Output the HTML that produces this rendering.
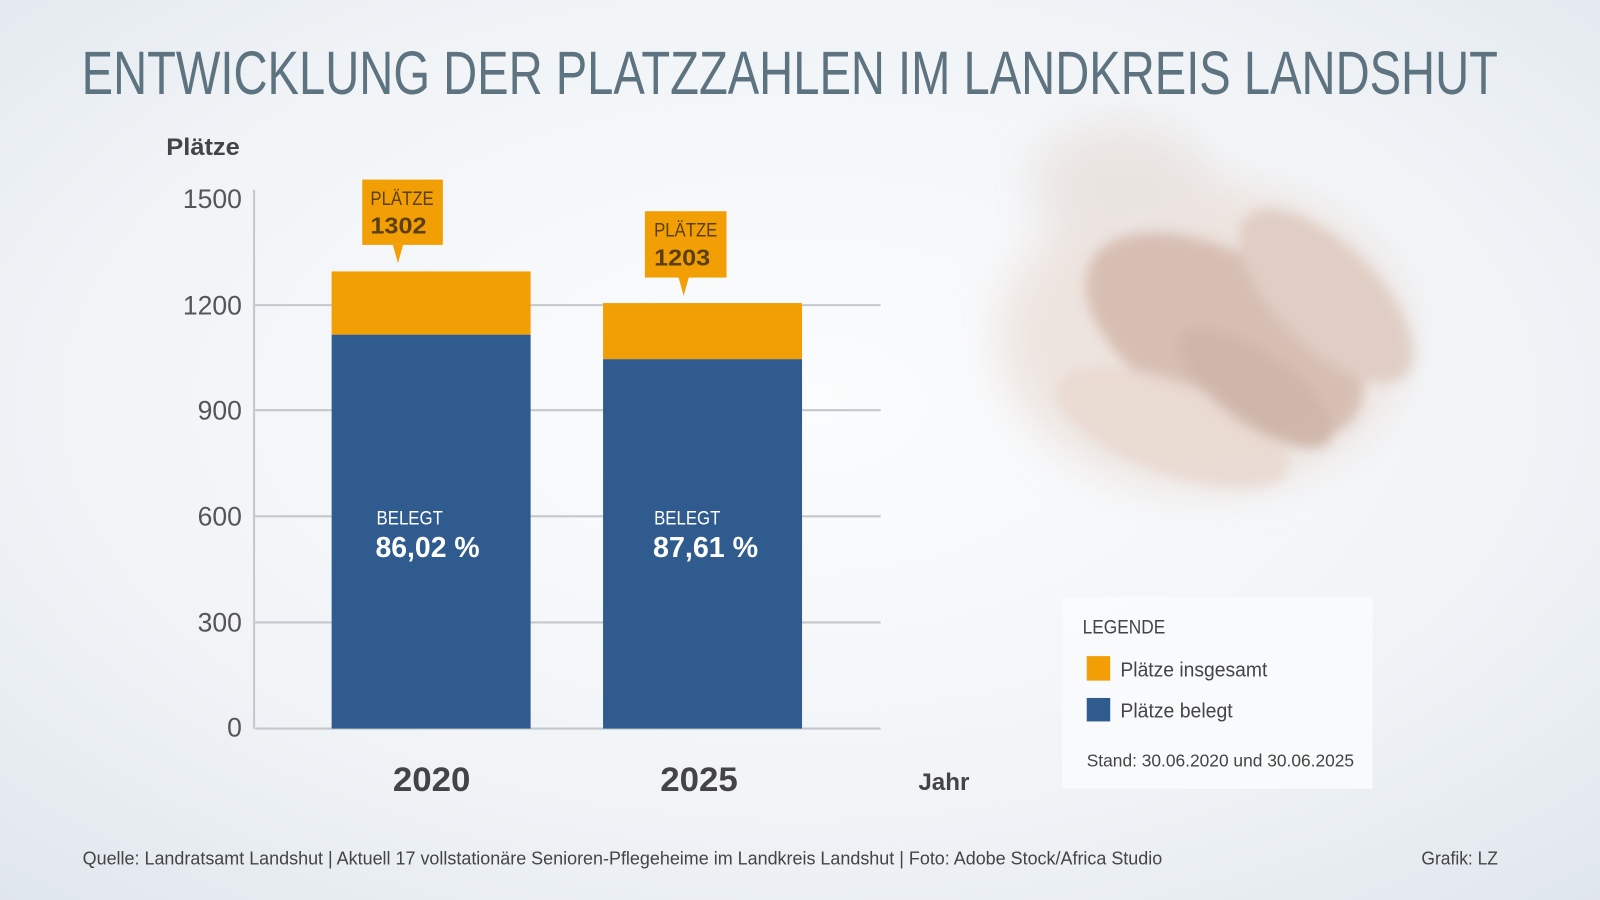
<!DOCTYPE html>
<html><head><meta charset="utf-8"><style>html,body{margin:0;padding:0;width:1600px;height:900px;overflow:hidden}svg{display:block}</style></head>
<body>
<svg width="1600" height="900" viewBox="0 0 1568 882" preserveAspectRatio="none" xmlns="http://www.w3.org/2000/svg" font-family="Liberation Sans, sans-serif">
<defs>
<radialGradient id="bg" cx="0.5" cy="0.45" r="0.75"><stop offset="0" stop-color="#fbfcfd"/><stop offset="0.6" stop-color="#f1f4f7"/><stop offset="1" stop-color="#dfe6ec"/></radialGradient>
<filter id="bl" x="-50%" y="-50%" width="200%" height="200%"><feGaussianBlur stdDeviation="22"/></filter>
<filter id="bl2"><feGaussianBlur stdDeviation="6"/></filter>
</defs>
<rect width="1568" height="882" fill="url(#bg)"/>
<g filter="url(#bl)" opacity="0.8">
<ellipse cx="1180" cy="330" rx="200" ry="150" fill="#ebdfd8"/>
<ellipse cx="1100" cy="180" rx="90" ry="60" fill="#e8e0db"/>
</g>
<g filter="url(#bl2)" opacity="0.75">
<ellipse cx="1200" cy="330" rx="150" ry="80" fill="#d0b2a5" transform="rotate(30 1200 330)"/>
<ellipse cx="1300" cy="290" rx="110" ry="50" fill="#dcc6bb" transform="rotate(45 1300 290)"/>
<ellipse cx="1150" cy="420" rx="120" ry="45" fill="#e8d7ce" transform="rotate(20 1150 420)"/>
<ellipse cx="1230" cy="380" rx="90" ry="35" fill="#c6a899" transform="rotate(35 1230 380)"/>
</g>
<text x="80" y="92" font-size="60" fill="#5e7380" textLength="1388" lengthAdjust="spacingAndGlyphs">ENTWICKLUNG DER PLATZZAHLEN IM LANDKREIS LANDSHUT</text>
<text x="163" y="152" font-size="24" font-weight="bold" fill="#444" textLength="72" lengthAdjust="spacingAndGlyphs">Plätze</text>
<g stroke="#c4c8cc" stroke-width="2">
<line x1="250" y1="299" x2="863" y2="299"/><line x1="250" y1="402" x2="863" y2="402"/><line x1="250" y1="506" x2="863" y2="506"/><line x1="250" y1="610" x2="863" y2="610"/><line x1="250" y1="714" x2="863" y2="714"/><line x1="249" y1="186" x2="249" y2="714"/>
</g>
<g font-size="26" fill="#555" text-anchor="end">
<text x="237" y="204">1500</text><text x="237" y="308">1200</text><text x="237" y="411">900</text><text x="237" y="515">600</text><text x="237" y="619">300</text><text x="237" y="722">0</text>
</g>
<rect x="325" y="266" width="195" height="62" fill="#f29f05"/>
<rect x="325" y="328" width="195" height="386" fill="#2f5b8f"/>
<rect x="591" y="297" width="195" height="55" fill="#f29f05"/>
<rect x="591" y="352" width="195" height="362" fill="#2f5b8f"/>
<rect x="355" y="176" width="79" height="64" fill="#f29f05"/><polygon points="385,240 395,240 390,258" fill="#f29f05"/>
<rect x="632" y="207" width="80" height="65" fill="#f29f05"/><polygon points="665,272 675,272 670,290" fill="#f29f05"/>
<g fill="#5b3f10"><text x="363" y="201" font-size="19" textLength="62" lengthAdjust="spacingAndGlyphs">PLÄTZE</text><text x="363" y="229" font-size="23" font-weight="bold" textLength="55" lengthAdjust="spacingAndGlyphs">1302</text>
<text x="641" y="232" font-size="19" textLength="62" lengthAdjust="spacingAndGlyphs">PLÄTZE</text><text x="641" y="260" font-size="23" font-weight="bold" textLength="55" lengthAdjust="spacingAndGlyphs">1203</text></g>
<g fill="#fff"><text x="369" y="514" font-size="19" textLength="65" lengthAdjust="spacingAndGlyphs">BELEGT</text><text x="368" y="546" font-size="28" font-weight="bold" textLength="102" lengthAdjust="spacingAndGlyphs">86,02 %</text>
<text x="641" y="514" font-size="19" textLength="65" lengthAdjust="spacingAndGlyphs">BELEGT</text><text x="640" y="546" font-size="28" font-weight="bold" textLength="103" lengthAdjust="spacingAndGlyphs">87,61 %</text></g>
<g fill="#444" font-weight="bold"><text x="385" y="775" font-size="34" textLength="76" lengthAdjust="spacingAndGlyphs">2020</text><text x="647" y="775" font-size="34" textLength="76" lengthAdjust="spacingAndGlyphs">2025</text><text x="900" y="774" font-size="24" textLength="50" lengthAdjust="spacingAndGlyphs">Jahr</text></g>
<rect x="1041" y="585" width="304" height="188" fill="#fafbfc" opacity="0.9"/>
<g fill="#444"><text x="1061" y="621" font-size="19" textLength="81" lengthAdjust="spacingAndGlyphs">LEGENDE</text>
<rect x="1065" y="643" width="23" height="24" fill="#f29f05"/><rect x="1065" y="684" width="23" height="23" fill="#2f5b8f"/>
<text x="1098" y="663" font-size="20" textLength="144" lengthAdjust="spacingAndGlyphs">Plätze insgesamt</text>
<text x="1098" y="703" font-size="20" textLength="110" lengthAdjust="spacingAndGlyphs">Plätze belegt</text>
<text x="1065" y="751" font-size="17" textLength="262" lengthAdjust="spacingAndGlyphs">Stand: 30.06.2020 und 30.06.2025</text>
<text x="81" y="847" font-size="18" textLength="1058" lengthAdjust="spacingAndGlyphs">Quelle: Landratsamt Landshut | Aktuell 17 vollstationäre Senioren-Pflegeheime im Landkreis Landshut | Foto: Adobe Stock/Africa Studio</text>
<text x="1393" y="847" font-size="18" textLength="75" lengthAdjust="spacingAndGlyphs">Grafik: LZ</text></g>
</svg>
</body></html>
